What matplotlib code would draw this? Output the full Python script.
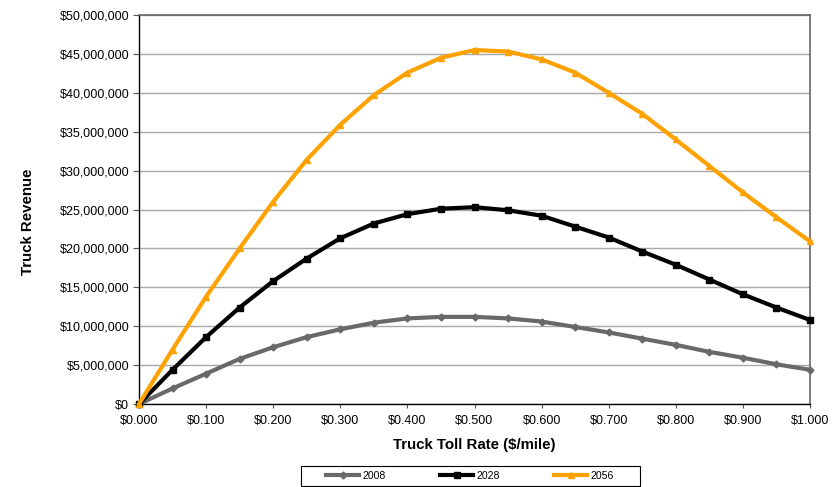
import matplotlib.pyplot as plt
from matplotlib.patches import Rectangle
from matplotlib.ticker import FuncFormatter, MultipleLocator

plt.rcParams['font.family'] = ['Liberation Sans', 'DejaVu Sans']

# toll rate in $/mile
rate = [0.00, 0.05, 0.10, 0.15, 0.20, 0.25, 0.30, 0.35, 0.40, 0.45, 0.50,
        0.55, 0.60, 0.65, 0.70, 0.75, 0.80, 0.85, 0.90, 0.95, 1.00]

# truck revenue in $ millions
rev_2008 = [0.0, 2.0, 3.9, 5.8, 7.3, 8.6, 9.6, 10.45, 11.0, 11.2, 11.2,
            11.0, 10.6, 9.9, 9.2, 8.4, 7.6, 6.7, 5.95, 5.1, 4.4]
rev_2028 = [0.0, 4.4, 8.6, 12.4, 15.8, 18.7, 21.3, 23.2, 24.4, 25.1, 25.3,
            24.9, 24.2, 22.8, 21.4, 19.6, 17.9, 16.0, 14.1, 12.4, 10.8]
rev_2056 = [0.0, 7.0, 13.8, 20.0, 26.0, 31.4, 35.9, 39.7, 42.6, 44.5, 45.5,
            45.3, 44.3, 42.6, 40.0, 37.3, 34.0, 30.6, 27.2, 24.0, 20.9]

W, H = 836, 487
fig = plt.figure(figsize=(W / 100, H / 100), dpi=100)
ax = fig.add_axes([139 / W, 1 - 404 / H, 671 / W, 389 / H])

ax.plot(rate, [v * 1e6 for v in rev_2008], color='#696969', lw=3,
        marker='D', ms=3.5, label='2008', zorder=3, clip_on=False)
ax.plot(rate, [v * 1e6 for v in rev_2028], color='black', lw=3,
        marker='s', ms=5, label='2028', zorder=4, clip_on=False)
ax.plot(rate, [v * 1e6 for v in rev_2056], color='#ffa200', lw=3,
        marker='^', ms=5, label='2056', zorder=5, clip_on=False)

ax.set_xlim(0, 1.0)
ax.set_ylim(0, 50e6)
ax.xaxis.set_major_locator(MultipleLocator(0.1))
ax.yaxis.set_major_locator(MultipleLocator(5e6))
ax.xaxis.set_major_formatter(FuncFormatter(lambda x, p: '${:.3f}'.format(x)))
ax.yaxis.set_major_formatter(FuncFormatter(lambda y, p: '${:,.0f}'.format(y)))
ax.tick_params(labelsize=9, width=0.8, color='#555555')
ax.tick_params(axis='x', length=3, pad=5)
ax.tick_params(axis='y', length=4, pad=3)

ax.grid(axis='y', color='#a8a8a8', lw=1)
ax.set_axisbelow(True)
for side in ['top', 'right']:
    ax.spines[side].set_color('#666666')
    ax.spines[side].set_linewidth(1.2)
for side in ['left', 'bottom']:
    ax.spines[side].set_color('black')
    ax.spines[side].set_linewidth(1)

fig.text(474 / W, 1 - 445 / H, 'Truck Toll Rate ($/mile)', fontsize=10.8,
         fontweight='bold', ha='center', va='center')
fig.text(28 / W, 1 - 222 / H, 'Truck Revenue', fontsize=10.8,
         fontweight='bold', ha='center', va='center', rotation=90)

# legend box below the plot
fig.patches.append(Rectangle((301 / W, 1 - 486 / H), 339 / W, 20 / H,
                             transform=fig.transFigure, fill=False,
                             edgecolor='black', lw=0.8))
fig.legend(loc='center', bbox_to_anchor=(470 / W, 1 - 476 / H), ncol=3,
           fontsize=7.6, frameon=False, handlelength=3.1,
           columnspacing=5.2, handletextpad=0.3, borderpad=0.2)

fig.savefig('out.png', dpi=100)
